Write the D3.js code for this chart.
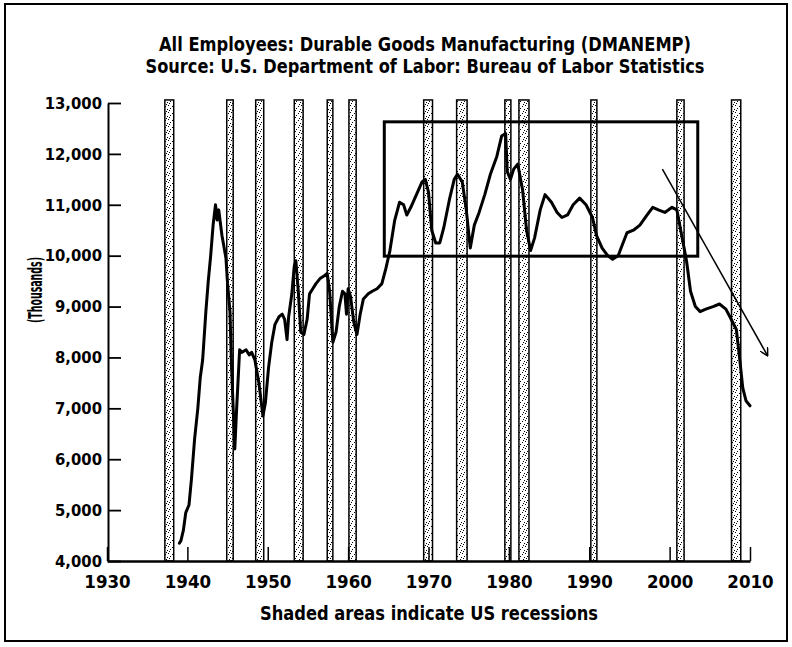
<!DOCTYPE html>
<html>
<head>
<meta charset="utf-8">
<script src="https://cdn.jsdelivr.net/npm/d3@7"></script>
<style>
  html, body { margin: 0; padding: 0; background: #fff; }
  svg { display: block; }
  text { font-family: "Liberation Sans Narrow", "DejaVu Sans Condensed", "Liberation Sans", sans-serif; font-weight: bold; fill: #000; }
</style>
</head>
<body>
<svg id="chart" width="792" height="647"></svg>
<script>
// ---- Data ----
const titleLines = [
  "All Employees: Durable Goods Manufacturing (DMANEMP)",
  "Source: U.S. Department of Labor: Bureau of Labor Statistics"
];
const xLabel = "Shaded areas indicate US recessions";
const yLabel = "(Thousands)";

const years = [
  1939.0,1939.2,1939.5,1939.8,1940.2,1940.5,1940.9,1941.3,1941.6,1941.9,
  1942.3,1942.6,1942.9,1943.2,1943.5,1943.7,1943.9,1944.3,1944.8,1945.0,
  1945.3,1945.5,1945.7,1945.9,1946.1,1946.5,1946.8,1947.3,1947.7,1948.0,
  1948.4,1948.9,1949.4,1949.7,1950.1,1950.5,1950.9,1951.4,1951.8,1952.1,
  1952.4,1952.6,1953.0,1953.3,1953.5,1953.8,1954.1,1954.5,1954.9,1955.2,
  1955.6,1956.0,1956.5,1957.0,1957.4,1957.7,1958.1,1958.5,1958.9,1959.3,
  1959.6,1959.8,1960.0,1960.3,1960.7,1961.1,1961.5,1961.9,1962.5,1963.0,
  1963.6,1964.2,1964.7,1965.2,1965.8,1966.4,1966.9,1967.3,1967.8,1968.5,
  1969.2,1969.6,1970.0,1970.4,1970.9,1971.4,1971.9,1972.6,1973.2,1973.6,
  1974.2,1974.7,1975.2,1975.7,1976.3,1977.0,1977.7,1978.5,1979.1,1979.6,
  1979.8,1980.2,1980.6,1981.1,1981.7,1982.2,1982.7,1983.2,1983.9,1984.5,
  1985.3,1986.0,1986.6,1987.3,1988.0,1988.8,1989.6,1990.4,1990.9,1991.6,
  1992.3,1992.9,1993.6,1994.2,1994.7,1995.5,1996.3,1997.2,1997.9,1998.6,
  1999.4,2000.3,2000.9,2001.5,2002.1,2002.6,2003.2,2003.8,2004.5,2005.4,
  2006.2,2007.0,2007.5,2008.3,2008.7,2009.1,2009.5,2010.0
];
const employees = [
  4350,4400,4600,4950,5100,5600,6400,7000,7600,7950,
  8900,9500,10000,10600,11000,10700,10900,10400,9950,9450,
  8900,7800,7000,6200,6900,8150,8100,8150,8050,8100,
  7950,7500,6850,7100,7800,8300,8650,8800,8850,8750,
  8350,8800,9250,9800,9900,9300,8500,8450,8750,9250,
  9350,9450,9550,9600,9650,9300,8300,8500,9000,9300,
  9250,8850,9350,9200,8700,8450,8850,9150,9250,9300,
  9350,9450,9750,10100,10700,11050,11000,10800,10950,11200,
  11450,11500,11250,10500,10250,10250,10550,11100,11500,11600,
  11450,10900,10150,10600,10850,11200,11600,11950,12350,12400,
  11650,11500,11700,11800,11300,10500,10100,10350,10900,11200,
  11050,10850,10750,10800,11000,11130,11000,10750,10400,10150,
  10000,9930,10000,10250,10450,10500,10600,10800,10950,10900,
  10850,10950,10900,10400,9900,9300,9000,8900,8950,9000,
  9050,8950,8800,8550,8000,7400,7150,7050
];

const recessionStarts = [1937.2,1944.9,1948.5,1953.3,1957.4,1960.1,1969.4,1973.5,1979.5,1981.25,1990.2,2000.9,2007.7];
const recessionEnds   = [1938.3,1945.7,1949.5,1954.4,1958.1,1961.0,1970.5,1974.8,1980.25,1982.5,1990.95,2001.8,2008.85];

const xTickYears = [1930,1940,1950,1960,1970,1980,1990,2000,2010];
const yTickValues = [4000,5000,6000,7000,8000,9000,10000,11000,12000,13000];

// hand-drawn annotations
const boxYears = [1964.5, 2003.5];
const boxValues = [9990, 12630];
const arrowYears = [1999.1, 2012.2];
const arrowValues = [11700, 8030];

// ---- Chart ----
const svg = d3.select("#chart");
const x = d3.scaleLinear().domain([1930, 2010]).range([107, 750]);
const y = d3.scaleLinear().domain([4000, 13000]).range([561, 103]);

const defs = svg.append("defs");
const pat = defs.append("pattern").attr("id", "speck")
  .attr("patternUnits", "userSpaceOnUse").attr("width", 7).attr("height", 7);
pat.append("rect").attr("width", 7).attr("height", 7).attr("fill", "#fff");
[[0,0],[4,1],[2,3],[6,4],[1,5],[5,6]].forEach(([px, py]) =>
  pat.append("rect").attr("x", px).attr("y", py).attr("width", 1).attr("height", 1).attr("fill", "#000"));

defs.append("marker").attr("id", "arrowhead")
  .attr("viewBox", "0 0 10 10").attr("refX", 9).attr("refY", 5)
  .attr("markerWidth", 9).attr("markerHeight", 9).attr("markerUnits", "userSpaceOnUse")
  .attr("orient", "auto")
  .append("path").attr("d", "M0,0 L9,5 L0,10").attr("fill", "none")
  .attr("stroke", "#000").attr("stroke-width", 1.6);

// outer frame
svg.append("rect").attr("x", 5).attr("y", 4).attr("width", 782).attr("height", 637)
  .attr("fill", "none").attr("stroke", "#000").attr("stroke-width", 2);

// titles
svg.selectAll("text.title").data(titleLines).join("text")
  .attr("class", "title")
  .attr("x", 425).attr("y", (d, i) => 51 + i * 22)
  .attr("text-anchor", "middle")
  .attr("font-size", 19)
  .attr("textLength", (d, i) => i === 0 ? 532 : 559)
  .attr("lengthAdjust", "spacingAndGlyphs")
  .text(d => d);

// recession bars
svg.append("g").selectAll("rect").data(recessionStarts).join("rect")
  .attr("x", (d) => x(d))
  .attr("width", (d, i) => x(recessionEnds[i]) - x(d))
  .attr("y", y(13060))
  .attr("height", y(4000) - y(13060))
  .attr("fill", "url(#speck)")
  .attr("stroke", "#000").attr("stroke-width", 1.5);

// axes
const xAxis = svg.append("g").attr("transform", `translate(0,${y(4000)})`)
  .call(d3.axisBottom(x).tickValues(xTickYears).tickFormat(d3.format("d"))
    .tickSize(-14).tickSizeOuter(0).tickPadding(14));
xAxis.select(".domain").attr("stroke-width", 2.5);
xAxis.selectAll(".tick line").attr("stroke-width", 1.5);
xAxis.selectAll("text").attr("font-size", 18.5)
  .attr("font-family", "'Liberation Sans', Arial, sans-serif");

const yAxis = svg.append("g").attr("transform", `translate(${x(1930) + 1},0)`)
  .call(d3.axisLeft(y).tickValues(yTickValues).tickFormat(d3.format(","))
    .tickSize(-13).tickSizeOuter(0).tickPadding(6));
yAxis.select(".domain").attr("stroke-width", 2);
yAxis.selectAll(".tick line").attr("stroke-width", 1.8);
yAxis.selectAll("text").attr("font-size", 16.5)
  .attr("font-family", "'Liberation Sans', Arial, sans-serif");

// y label
svg.append("text")
  .attr("transform", "translate(42,290) rotate(-90)")
  .attr("text-anchor", "middle")
  .attr("font-size", 20)
  .attr("textLength", 66).attr("lengthAdjust", "spacingAndGlyphs")
  .text(yLabel);

// x label
svg.append("text")
  .attr("x", 429).attr("y", 620)
  .attr("text-anchor", "middle")
  .attr("font-size", 19)
  .attr("textLength", 338).attr("lengthAdjust", "spacingAndGlyphs")
  .text(xLabel);

// data line
const line = d3.line().x((d, i) => x(years[i])).y(d => y(d));
svg.append("path").datum(employees)
  .attr("d", line)
  .attr("fill", "none").attr("stroke", "#000")
  .attr("stroke-width", 3).attr("stroke-linejoin", "round").attr("stroke-linecap", "round");

// annotation box
svg.append("rect")
  .attr("x", x(boxYears[0])).attr("y", y(boxValues[1]))
  .attr("width", x(boxYears[1]) - x(boxYears[0]))
  .attr("height", y(boxValues[0]) - y(boxValues[1]))
  .attr("fill", "none").attr("stroke", "#000").attr("stroke-width", 3);

// annotation arrow
svg.append("line")
  .attr("x1", x(arrowYears[0])).attr("y1", y(arrowValues[0]))
  .attr("x2", x(arrowYears[1])).attr("y2", y(arrowValues[1]))
  .attr("stroke", "#000").attr("stroke-width", 1.5)
  .attr("marker-end", "url(#arrowhead)");
</script>
</body>
</html>
